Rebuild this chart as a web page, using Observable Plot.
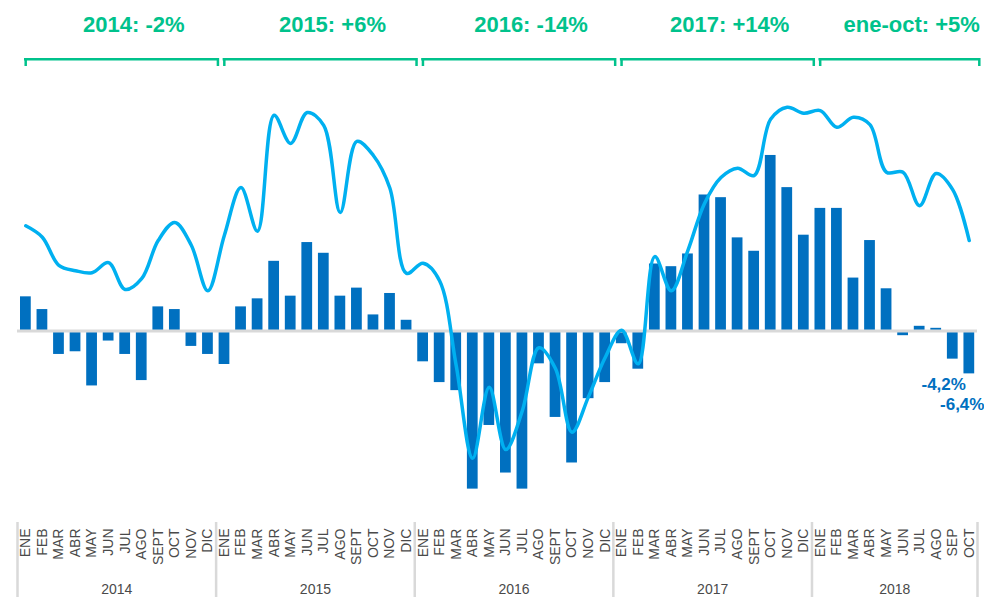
<!DOCTYPE html>
<html><head><meta charset="utf-8">
<script src="https://cdn.jsdelivr.net/npm/d3@7"></script>
<script src="https://cdn.jsdelivr.net/npm/@observablehq/plot@0.6"></script>
<style>
body{margin:0;background:#fff;}
#chart svg{display:block;}
</style></head><body><div id="chart"></div>
<script>
// ---- data ----
const years = ["2014", "2015", "2016", "2017", "2018"];
const monthsPerYear = [12, 12, 12, 12, 10];
const monthNames = ["ENE","FEB","MAR","ABR","MAY","JUN","JUL","AGO","SEPT","OCT","NOV","DIC"];
const monthNames2018 = ["ENE","FEB","MAR","ABR","MAY","JUN","JUL","AGO","SEP","OCT"];
const yearNotes = ["2014: -2%", "2015: +6%", "2016: -14%", "2017: +14%", "ene-oct: +5%"];
// monthly year-on-year change (%), bars
const barValues = [
  5.1, 3.2, -3.5, -3.1, -8.2, -1.5, -3.5, -7.4, 3.6, 3.2, -2.3, -3.5,
  -5.0, 3.6, 4.8, 10.4, 5.2, 13.2, 11.6, 5.2, 6.4, 2.4, 5.6, 1.6,
  -4.6, -7.7, -8.9, -23.6, -14.1, -21.2, -23.6, -4.9, -12.9, -19.7, -10.1, -7.7,
  -1.9, -5.7, 10.0, 9.6, 11.5, 20.3, 19.9, 13.9, 11.9, 26.2, 21.4, 14.3,
  18.3, 18.3, 7.9, 13.5, 6.3, -0.7, 0.7, 0.4, -4.2, -6.4
];
// smoothed trend line (same vertical units)
const lineValues = [
  15.7, 14.0, 9.8, 9.0, 8.7, 10.2, 6.2, 7.8, 13.5, 16.2, 12.8, 6.0,
  14.3, 21.4, 14.9, 32.2, 28.0, 32.6, 30.7, 17.7, 28.3, 26.2, 21.3, 8.6,
  10.1, 7.5, -5.1, -19.0, -8.4, -17.7, -11.9, -2.5, -5.6, -15.1, -9.8, -4.0,
  0.1, -4.9, 11.1, 6.0, 12.0, 19.0, 22.9, 24.3, 23.2, 31.6, 33.4, 32.5,
  32.9, 30.4, 31.9, 30.8, 23.7, 23.7, 18.7, 23.5, 21.1, 13.5
];
const calloutText = ["-4,2%", "-6,4%"]; // last two months

// ---- derived tables ----
const rows = [];
const yearSpans = [];
let idx = 0;
years.forEach((y, k) => {
  const names = k === 4 ? monthNames2018 : monthNames;
  const start = idx;
  for (let m = 0; m < monthsPerYear[k]; m++) {
    rows.push({i: idx, label: names[m], year: y, value: barValues[idx], trend: lineValues[idx]});
    idx++;
  }
  yearSpans.push({year: y, note: yearNotes[k], start, end: idx, mid: (start + idx) / 2});
});
const boundaries = [0, ...yearSpans.map(d => d.end)];
const n = rows.length;
const callouts = rows.slice(n - 2).map((d, j) => ({...d, text: calloutText[j]}));

// ---- style ----
const FONT = '"Liberation Sans", Arial, Helvetica, sans-serif';
const GREEN = "#00C28C";
const BAR = "#0070C0";
const LINE = "#00B0F0";
const GRAY = "#4a4a4a";
const common = {width: 984, marginLeft: 17, marginRight: 7, style: {fontFamily: FONT, background: "white", overflow: "visible"}};
const xOpts = {domain: [0, n], axis: null};

const topPlot = Plot.plot({
  ...common, height: 75, marginTop: 58, marginBottom: 9,
  x: xOpts,
  marks: [
    Plot.rect(yearSpans, {x1: "start", x2: "end", fill: GREEN, insetLeft: 7, insetRight: -3, insetBottom: 5.5}),
    Plot.ruleX(yearSpans, {x: "start", stroke: GREEN, strokeWidth: 2.5, dx: 8.2}),
    Plot.ruleX(yearSpans, {x: "end", stroke: GREEN, strokeWidth: 2.5, dx: 1.8}),
    Plot.text(yearSpans, {x: "mid", text: "note", frameAnchor: "top", lineAnchor: "middle", dy: -34, dx: 17,
      fill: GREEN, fontSize: 22, fontWeight: "bold"})
  ]
});

const mainPlot = Plot.plot({
  ...common, height: 445, marginTop: 7.6, marginBottom: 8.6,
  x: xOpts,
  y: {domain: [-27, 37], axis: null},
  marks: [
    Plot.rect(rows, {x1: "i", x2: d => d.i + 1, y1: () => 0, y2: "value", fill: BAR, insetLeft: 3, insetRight: 2.8}),
    Plot.ruleY([0], {stroke: "#d9d9d9", strokeWidth: 3}),
    Plot.line(rows, {x: d => d.i + 0.5, y: "trend", curve: "catmull-rom", stroke: LINE, strokeWidth: 3.5}),
    Plot.text(callouts.slice(0, 1), {x: d => d.i + 0.5, y: "value", text: "text", dx: -9, dy: 25.5,
      fill: BAR, fontSize: 17, fontWeight: "bold"}),
    Plot.text(callouts.slice(1), {x: d => d.i + 0.5, y: "value", text: "text", dx: -7, dy: 30.6,
      fill: BAR, fontSize: 17, fontWeight: "bold"})
  ]
});

const bottomPlot = Plot.plot({
  ...common, height: 77, marginTop: 0, marginBottom: 0,
  x: xOpts,
  marks: [
    Plot.ruleX(boundaries, {stroke: "#d9d9d9", strokeWidth: 2.5, insetTop: 2}),
    Plot.text(rows, {x: d => d.i + 0.5, text: "label", rotate: -90, textAnchor: "end", lineAnchor: "middle",
      frameAnchor: "top", dy: 8, fontSize: 14, fill: GRAY}),
    Plot.text(yearSpans, {x: "mid", text: "year", frameAnchor: "bottom", lineAnchor: "middle", dy: -8, fontSize: 14, fill: GRAY})
  ]
});

const el = document.getElementById("chart");
el.append(topPlot, mainPlot, bottomPlot);
</script>
</body></html>
